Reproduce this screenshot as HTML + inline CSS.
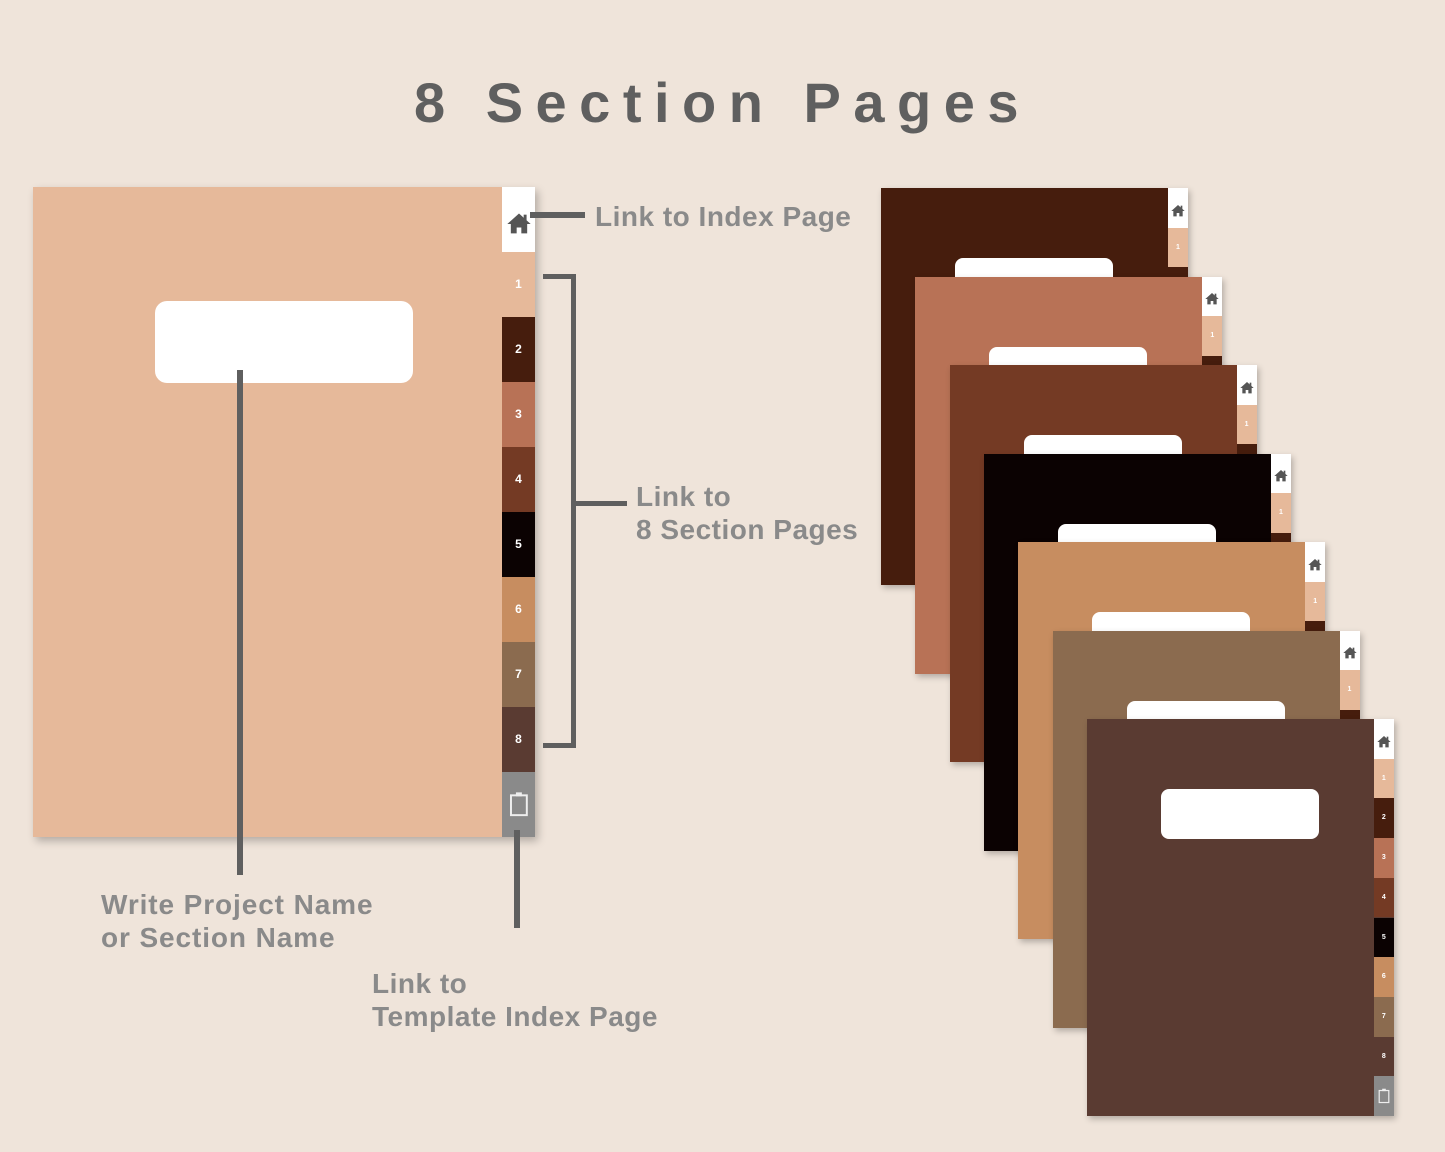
<!DOCTYPE html>
<html><head><meta charset="utf-8"><style>
body{margin:0;width:1445px;height:1152px;background:#efe4da;position:relative;overflow:hidden;font-family:"Liberation Sans",sans-serif}
.a{position:absolute}
.title{left:0;width:1445px;top:70px;text-align:center;font-size:56px;font-weight:bold;color:#5f5f5f;letter-spacing:12.5px;padding-left:0px;box-sizing:border-box}
.ln{position:absolute;background:#5f5f5f}
.lbl{position:absolute;color:#8a8a8a;font-weight:bold;font-size:28px;line-height:33px;letter-spacing:0.5px;white-space:nowrap}
.tab{position:absolute;color:#fff;font-weight:bold;text-align:center}
</style></head><body>
<div class="a title">8 Section Pages</div>

<div class="a" style="left:33px;top:187px;width:502px;height:650px;background:#e6b99a;box-shadow:3px 4px 8px rgba(0,0,0,.25)"></div>
<div class="a" style="left:155px;top:301px;width:258px;height:82px;background:#fff;border-radius:12px"></div>
<div id="maintabs"></div>

<div class="ln" style="left:237px;top:370px;width:6px;height:505px"></div>
<div class="ln" style="left:514px;top:830px;width:6px;height:98px"></div>
<div class="ln" style="left:530px;top:212px;width:55px;height:6px"></div>
<div class="ln" style="left:543px;top:274px;width:33px;height:5px"></div>
<div class="ln" style="left:543px;top:743px;width:33px;height:5px"></div>
<div class="ln" style="left:571px;top:274px;width:5px;height:474px"></div>
<div class="ln" style="left:576px;top:501px;width:51px;height:5px"></div>

<div class="lbl" style="left:595px;top:200px">Link to Index Page</div>
<div class="lbl" style="left:636px;top:480px">Link to<br>8 Section Pages</div>
<div class="lbl" style="left:101px;top:888px;letter-spacing:0.9px">Write Project Name<br>or Section Name</div>
<div class="lbl" style="left:372px;top:967px">Link to<br>Template Index Page</div>

<div id="stack"></div>
<script>
var cols=['#e6b99a','#461d0d','#b87256','#743a24','#0b0202','#c78d60','#8b6b4f','#5a3b32'];
function house(s){return '<svg width="'+s+'" height="'+s+'" viewBox="0 0 24 24"><path d="M12 3L2 12h3v8h5v-5h4v5h5v-8h3z" fill="#555"/><rect x="16" y="4" width="2.5" height="5" fill="#555"/></svg>';}
function trash(w,h){return '<svg width="'+w+'" height="'+h+'" viewBox="0 0 20 26"><rect x="2" y="4" width="16" height="20" fill="none" stroke="#eee" stroke-width="2"/><rect x="7" y="1" width="6" height="4" fill="#eee"/></svg>';}
function tabs(x,y,w,h,fs,hs){
 var s='<div class="tab" style="left:'+x+'px;top:'+y+'px;width:'+w+'px;height:'+h+'px;background:#fff;display:flex;align-items:center;justify-content:center;padding-top:'+(h*0.15)+'px;box-sizing:border-box">'+house(hs)+'</div>';
 for(var i=0;i<8;i++){s+='<div class="tab" style="left:'+x+'px;top:'+(y+h*(i+1))+'px;width:'+w+'px;height:'+h+'px;line-height:'+h+'px;background:'+cols[i]+';font-size:'+fs+'px">'+(i+1)+'</div>';}
 s+='<div class="tab" style="left:'+x+'px;top:'+(y+h*9)+'px;width:'+w+'px;height:'+h+'px;background:#8a8a8a;display:flex;align-items:center;justify-content:center">'+trash(w*0.6,h*0.5)+'</div>';
 return s;}
document.getElementById('maintabs').innerHTML=tabs(502,187,33,65,12,28);
var pc=['#461d0d','#b87256','#743a24','#0b0202','#c78d60','#8b6b4f','#5a3b32'];
var s='';
for(var k=0;k<7;k++){
 var x=881+k*34.3,y=188+k*88.5;
 s+='<div class="a" style="left:'+x+'px;top:'+y+'px;width:307px;height:397px;background:'+pc[k]+';box-shadow:2px 3px 6px rgba(0,0,0,.25)"></div>';
 s+='<div class="a" style="left:'+(x+74)+'px;top:'+(y+70)+'px;width:158px;height:50px;background:#fff;border-radius:8px"></div>';
 s+=tabs(x+287,y,20,39.7,7,16);
}
document.getElementById('stack').innerHTML=s;
</script>
</body></html>
